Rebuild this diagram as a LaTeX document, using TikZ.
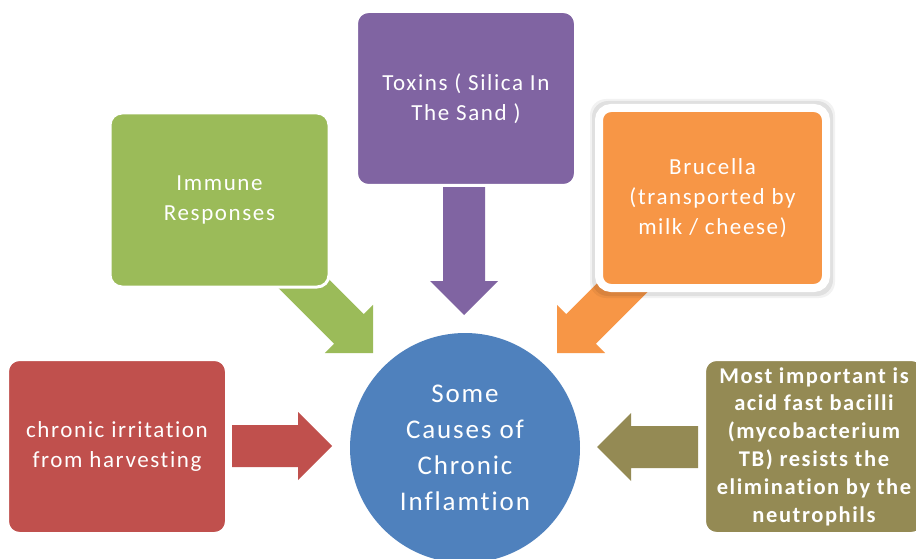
\documentclass[tikz,border=0pt]{standalone}
\usepackage{fontspec}
\setmainfont{Carlito}[LetterSpace=7, Ligatures={NoCommon}]
\definecolor{cred}{HTML}{C0504D}
\definecolor{cgreen}{HTML}{9BBB59}
\definecolor{cpurple}{HTML}{8064A2}
\definecolor{corange}{HTML}{F79646}
\definecolor{colive}{HTML}{948A54}
\definecolor{cblue}{HTML}{4F81BD}
\newcommand\blockarrow[4]{%
  \fill[#1, shift={(#2)}, rotate=#3] (0,0) -- (-34,34) -- (-34,21) -- (-#4,21)
     -- (-#4,-21) -- (-34,-21) -- (-34,-34) -- cycle;}
\begin{document}
\begin{tikzpicture}[x=1pt,y=1pt,
  box/.style={rounded corners=12pt, draw=white, line width=3pt,
    minimum width=219pt, minimum height=174pt, text=white, align=center,
    font=\fontsize{23}{30}\selectfont, inner sep=0pt},
  hub/.style={circle, fill=cblue, minimum size=230pt, text=white,
    align=center, font=\fontsize{27}{36}\selectfont, inner sep=0pt}
]
\useasboundingbox (0,0) rectangle (916,-559);
\clip (0,0) rectangle (916,-559);
\fill[white] (0,0) rectangle (916,-559);

% arrow tips
\coordinate (tRed) at (332,-446);
\coordinate (tOlive) at (597,-447);
\coordinate (tPurple) at (464,-315);
\coordinate (tGreen) at (373,-353);
\coordinate (tOrange) at (557,-353);

\blockarrow{cred}{tRed}{0}{100}
\blockarrow{colive}{tOlive}{180}{101}
\blockarrow{cpurple}{tPurple}{-90}{135}
\blockarrow{cgreen}{tGreen}{-45}{130}
\blockarrow{corange}{tOrange}{-135}{130}

% boxes
\node[box, fill=cred] (red) at (117,-446.5) {chronic irritation\\from harvesting};
\node[box, fill=cgreen] (green) at (219.5,-200) {Immune\\Responses};
\node[box, fill=cpurple] (purple) at (466,-98.5) {Toxins ( Silica In\\The Sand )};
\fill[black, opacity=0.07, rounded corners=16pt] (592,-101) rectangle (833,-296);
\fill[black, opacity=0.05, rounded corners=16pt] (590,-99) rectangle (835,-298);
\node[box, fill=corange, line width=8pt, minimum width=227pt, minimum height=180pt]
  (orange) at (712.5,-198) {Brucella\\(transported by\\milk / cheese)};
\node[box, fill=colive, font=\fontsize{22.5}{27.8}\selectfont\bfseries]
  (olive) at (814,-446.5) {Most important is\\acid fast bacilli\\(mycobacterium\\TB) resists the\\elimination by the\\neutrophils};

\node[hub] (hub) at (465,-448) {Some\\Causes of\\Chronic\\Inflamtion};
\end{tikzpicture}
\end{document}
